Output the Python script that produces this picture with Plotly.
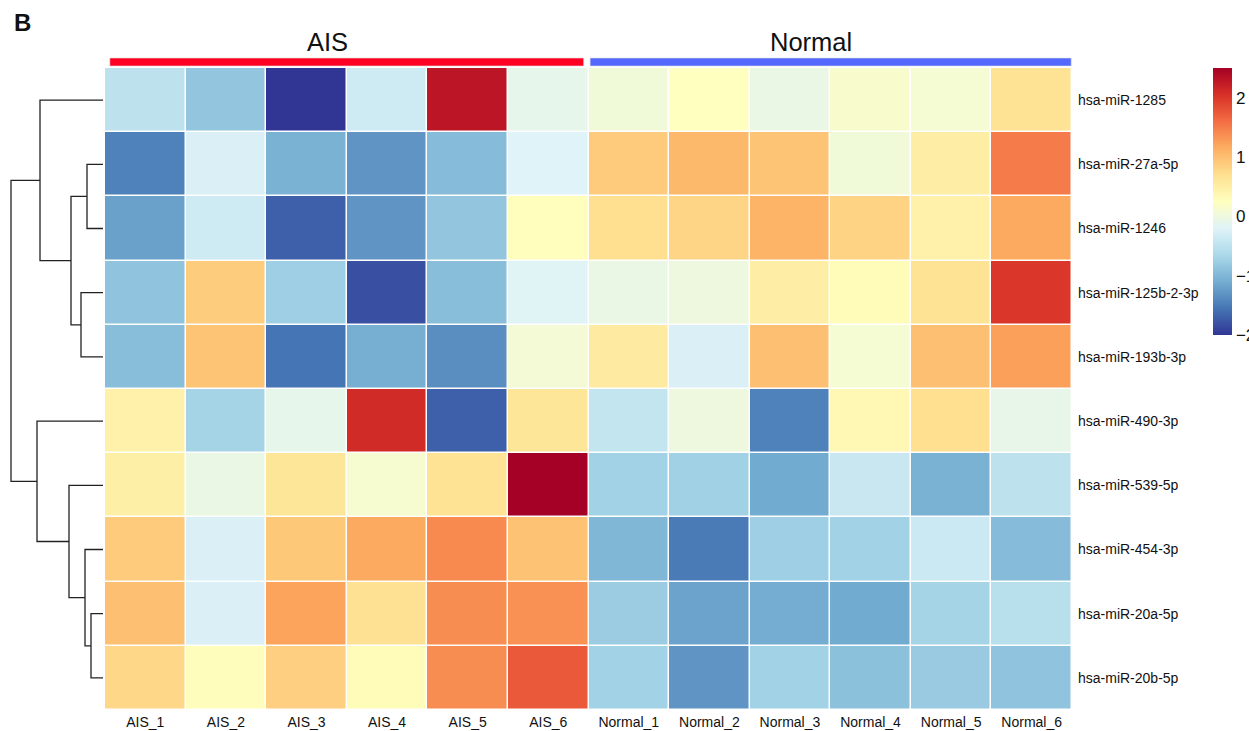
import plotly.graph_objects as go

# Samples (columns) and miRNAs (rows, in clustered order)
samples = ["AIS_1", "AIS_2", "AIS_3", "AIS_4", "AIS_5", "AIS_6",
           "Normal_1", "Normal_2", "Normal_3", "Normal_4", "Normal_5", "Normal_6"]
groups = ["AIS"] * 6 + ["Normal"] * 6
group_names = ["AIS", "Normal"]
group_colors = ["#FF0022", "#5468FF"]

mirnas = ["hsa-miR-1285", "hsa-miR-27a-5p", "hsa-miR-1246", "hsa-miR-125b-2-3p",
          "hsa-miR-193b-3p", "hsa-miR-490-3p", "hsa-miR-539-5p", "hsa-miR-454-3p",
          "hsa-miR-20a-5p", "hsa-miR-20b-5p"]

# Row-scaled expression (z-scores)
mir_1285 = [-0.50, -0.85, -2.00, -0.35, 2.30, -0.10, 0.05, 0.25, -0.05, 0.15, 0.10, 0.65]
mir_27a = [-1.45, -0.25, -1.05, -1.30, -0.95, -0.20, 0.90, 1.05, 0.95, 0.05, 0.50, 1.50]
mir_1246 = [-1.20, -0.35, -1.70, -1.30, -0.85, 0.27, 0.70, 0.80, 1.10, 0.82, 0.45, 1.18]
mir_125b = [-0.87, 0.88, -0.75, -1.82, -0.93, -0.18, -0.05, 0.00, 0.50, 0.30, 0.65, 2.00]
mir_193b = [-0.93, 0.95, -1.55, -1.08, -1.35, 0.08, 0.55, -0.25, 1.00, 0.10, 1.00, 1.25]
mir_490 = [0.45, -0.70, -0.10, 2.10, -1.70, 0.62, -0.45, 0.00, -1.45, 0.35, 0.70, -0.08]
mir_539 = [0.48, -0.05, 0.62, 0.12, 0.66, 2.50, -0.72, -0.73, -1.12, -0.40, -1.05, -0.50]
mir_454 = [0.90, -0.25, 0.92, 1.18, 1.40, 0.97, -1.00, -1.50, -0.75, -0.72, -0.38, -0.95]
mir_20a = [1.00, -0.25, 1.22, 0.68, 1.38, 1.35, -0.78, -1.18, -1.10, -1.12, -0.70, -0.55]
mir_20b = [0.78, 0.28, 0.85, 0.30, 1.38, 1.75, -0.72, -1.30, -0.72, -0.90, -0.80, -0.87]
z = [mir_1285, mir_27a, mir_1246, mir_125b, mir_193b,
     mir_490, mir_539, mir_454, mir_20a, mir_20b]

# Row clustering: (left, right, height); ints are leaf rows, "mN" are earlier merges
merges = [
    (1, 2, 16),
    (3, 4, 22),
    ("m0", "m1", 32),
    (0, "m2", 63),
    (8, 9, 12),
    (7, "m4", 18),
    (6, "m5", 34),
    (5, "m6", 66),
    ("m3", "m7", 92),
]

colorbar_ticks = [-2, -1, 0, 1, 2]

W, H = 1249, 731


def fx(px):
    return px / W


def fy(py):
    return 1 - py / H


fig = go.Figure()

fig.add_trace(go.Heatmap(
    z=z,
    x=list(range(len(samples))),
    y=list(range(len(mirnas))),
    colorscale="RdYlBu_r",
    zmin=-2.0, zmax=2.5,
    xgap=1.5, ygap=1.5,
    colorbar=dict(
        x=fx(1213), xanchor="left", xpad=0,
        y=fy(68), yanchor="top", ypad=0,
        len=267, lenmode="pixels", thickness=19,
        tickvals=colorbar_ticks, ticks="", outlinewidth=0,
        tickfont=dict(size=17, color="#111", family="Liberation Sans"),
    ),
    hoverinfo="skip",
))

# Dendrogram segments built from the merge list
pos = {}
hgt = {}
for i in range(len(mirnas)):
    pos[i] = float(i)
    hgt[i] = 0.0
dx, dy = [], []
for k, (a, b, h) in enumerate(merges):
    pa, pb = pos[a], pos[b]
    dx += [hgt[a], h, h, hgt[b], None]
    dy += [pa, pa, pb, pb, None]
    pos["m%d" % k] = (pa + pb) / 2
    hgt["m%d" % k] = h

fig.add_trace(go.Scatter(
    x=dx, y=dy, mode="lines", xaxis="x2", yaxis="y2",
    line=dict(color="#222", width=1.3), hoverinfo="skip", showlegend=False,
))

heat_dom_x = [fx(105), fx(1072)]
heat_dom_y = [fy(710), fy(68)]

fig.update_layout(
    width=W, height=H,
    margin=dict(l=0, r=0, t=0, b=0, autoexpand=False),
    paper_bgcolor="white", plot_bgcolor="white",
    font=dict(family="Liberation Sans", color="#111"),
    showlegend=False,
    xaxis=dict(domain=heat_dom_x, range=[-0.5, len(samples) - 0.5],
               tickvals=list(range(len(samples))), ticktext=samples,
               showgrid=False, zeroline=False, ticks="", showline=False,
               tickfont=dict(size=14), ticklabelstandoff=2,
               automargin=False, anchor="y"),
    yaxis=dict(domain=heat_dom_y, range=[len(mirnas) - 0.5, -0.5], side="right",
               tickvals=list(range(len(mirnas))), ticktext=mirnas,
               showgrid=False, zeroline=False, ticks="", showline=False,
               tickfont=dict(size=14), ticklabelstandoff=5,
               automargin=False, anchor="x"),
    xaxis2=dict(domain=[0, fx(105)], range=[103, -2], visible=False,
                anchor="y2", fixedrange=True),
    yaxis2=dict(domain=heat_dom_y, range=[len(mirnas) - 0.5, -0.5],
                visible=False, anchor="x2"),
)

# Column annotation bars and group titles
bar_insets = [(0.06, 0.06), (0.02, 0.01)]
title_shift = -0.24
shapes = []
annotations = []
for name, color, (lin, rin) in zip(group_names, group_colors, bar_insets):
    cols = [i for i, g in enumerate(groups) if g == name]
    first, last = cols[0], cols[-1]
    shapes.append(dict(
        type="rect", xref="x", yref="paper",
        x0=first - 0.5 + lin, x1=last + 0.5 - rin,
        y0=fy(66), y1=fy(58),
        fillcolor=color, line=dict(color="#ddd", width=0.6),
    ))
    annotations.append(dict(
        text=name, xref="x", yref="paper", x=(first + last) / 2 + title_shift,
        y=fy(42), showarrow=False, yanchor="middle", xanchor="center",
        font=dict(size=25.5, color="#111"),
    ))

annotations.append(dict(
    text="<b>B</b>", xref="paper", yref="paper", x=fx(22), y=fy(23),
    showarrow=False, xanchor="center", yanchor="middle",
    font=dict(size=24, color="#111"),
))

fig.update_layout(shapes=shapes, annotations=annotations)

fig.write_html("out.html")
